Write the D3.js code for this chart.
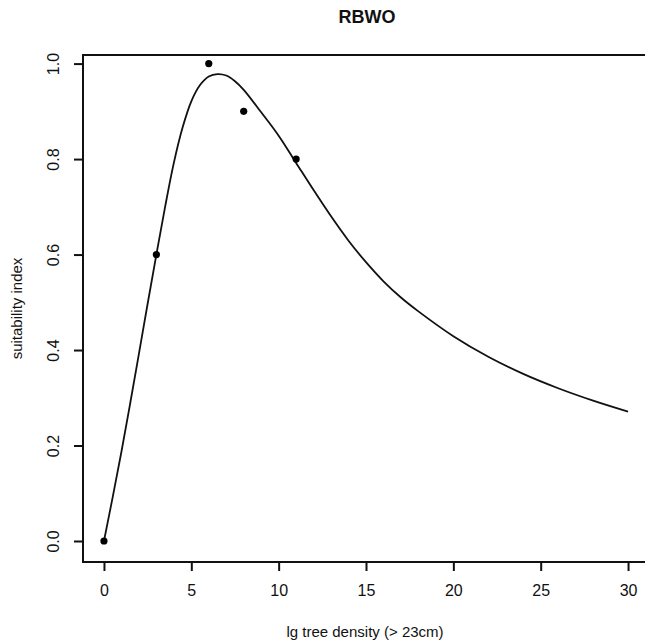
<!DOCTYPE html>
<html>
<head>
<meta charset="utf-8">
<script src="https://cdn.jsdelivr.net/npm/d3@7"></script>
<style>
  html, body { margin: 0; padding: 0; background: #fff; overflow: hidden; }
  svg { display: block; }
  text { font-family: "Liberation Sans", Arial, sans-serif; fill: #111; }
</style>
</head>
<body>
<div id="chart"></div>
<script>
// observed points
var obsX = [0, 3, 6, 8, 11];
var obsY = [0, 0.6, 1.0, 0.9, 0.8];

// fitted curve
var curveX = [0, 0.5, 1, 1.5, 2, 2.5, 3, 3.5, 4, 4.5, 5, 5.5, 6, 6.5, 7, 7.5, 8, 9, 10, 11, 12, 13, 14, 15, 16, 17, 18, 20, 22, 24, 26, 28, 30];
var curveY = [0, 0.092, 0.187, 0.288, 0.392, 0.497, 0.60, 0.70, 0.792, 0.866, 0.921, 0.955, 0.973, 0.978, 0.975, 0.963, 0.945, 0.898, 0.849, 0.792, 0.735, 0.680, 0.629, 0.584, 0.544, 0.510, 0.481, 0.429, 0.386, 0.350, 0.320, 0.294, 0.271];

var xTicks = [0, 5, 10, 15, 20, 25, 30];
var yTicks = [0, 0.2, 0.4, 0.6, 0.8, 1.0];

var svgWidth = 645;
var svgHeight = 643;

var margin = { top: 55, right: -4, bottom: 81, left: 83 };
var width = svgWidth - margin.left - margin.right;
var height = svgHeight - margin.top - margin.bottom;

var svg = d3.select("#chart")
  .append("svg")
  .attr("width", svgWidth)
  .attr("height", svgHeight);

var chartGroup = svg.append("g")
  .attr("transform", `translate(${margin.left}, ${margin.top})`);

var xScale = d3.scaleLinear()
  .domain([-1.2, 31.2])
  .range([0, width]);

var yScale = d3.scaleLinear()
  .domain([-0.044, 1.018])
  .range([height, 0]);

// plot box (right side runs off the page, as in the original)
chartGroup.append("rect")
  .attr("x", 0)
  .attr("y", 0)
  .attr("width", width)
  .attr("height", height)
  .attr("fill", "none")
  .attr("stroke", "#111")
  .attr("stroke-width", 2);

// axes, drawn R style: no domain line, ticks outward
var bottomAxis = d3.axisBottom(xScale)
  .tickValues(xTicks)
  .tickSize(9)
  .tickPadding(14)
  .tickFormat(d3.format("d"));

var xAxis = chartGroup.append("g")
  .attr("transform", `translate(0, ${height})`)
  .call(bottomAxis);
xAxis.select(".domain").remove();
xAxis.selectAll("line").attr("stroke", "#111").attr("stroke-width", 2);
xAxis.selectAll("text").attr("font-size", 16).attr("font-family", null).attr("fill", null);

var leftAxis = d3.axisLeft(yScale)
  .tickValues(yTicks)
  .tickSize(9)
  .tickFormat(d3.format(".1f"));

var yAxis = chartGroup.append("g").call(leftAxis);
yAxis.select(".domain").remove();
yAxis.selectAll("line").attr("stroke", "#111").attr("stroke-width", 2);
yAxis.selectAll("text")
  .attr("font-size", 16)
  .attr("font-family", null)
  .attr("fill", null)
  .attr("x", null)
  .attr("dy", null)
  .attr("text-anchor", "middle")
  .attr("transform", "translate(-24, 0) rotate(-90)");

// fitted curve
var curve = curveX.map((x, i) => [x, curveY[i]]);
var line = d3.line()
  .x(d => xScale(d[0]))
  .y(d => yScale(d[1]))
  .curve(d3.curveCatmullRom.alpha(0.5));

chartGroup.append("path")
  .datum(curve)
  .attr("d", line)
  .attr("fill", "none")
  .attr("stroke", "#111")
  .attr("stroke-width", 1.8);

// observed points
chartGroup.selectAll("circle")
  .data(obsX.map((x, i) => [x, obsY[i]]))
  .enter()
  .append("circle")
  .attr("cx", d => xScale(d[0]))
  .attr("cy", d => yScale(d[1]))
  .attr("r", 3.6)
  .attr("fill", "#000");

// title + axis labels
svg.append("text")
  .attr("x", 367)
  .attr("y", 23)
  .attr("text-anchor", "middle")
  .attr("font-size", 18)
  .attr("font-weight", "bold")
  .text("RBWO");

svg.append("text")
  .attr("x", 365)
  .attr("y", 637)
  .attr("text-anchor", "middle")
  .attr("font-size", 15)
  .text("lg tree density (> 23cm)");

svg.append("text")
  .attr("transform", `translate(22, ${margin.top + height / 2}) rotate(-90)`)
  .attr("text-anchor", "middle")
  .attr("font-size", 15)
  .text("suitability index");
</script>
</body>
</html>
